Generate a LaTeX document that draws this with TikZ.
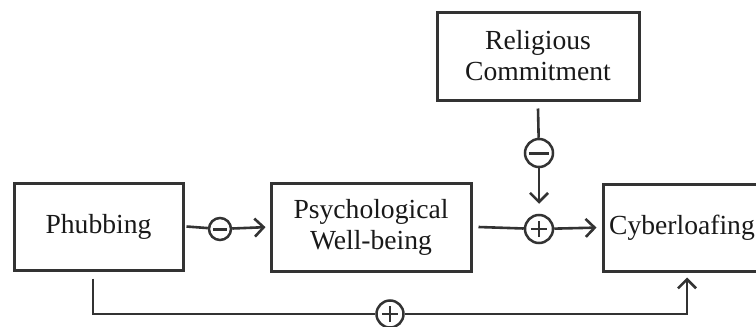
\documentclass[tikz,border=0pt]{standalone}
\usepackage{fontspec}
\setmainfont{Liberation Serif}
\usetikzlibrary{arrows.meta}
\usetikzlibrary{calc}
\usetikzlibrary{positioning}
\definecolor{linegray}{HTML}{333333}

\begin{document}
\begin{tikzpicture}
	[x=0.5pt, y=-0.5pt,
	every node/.style={font=\fontsize{13.8}{15.5}\selectfont, text=black!90},
	varbox/.style={draw=linegray, line width=1.5pt, rectangle, align=center, inner sep=0pt},
	sign/.style={draw=linegray, line width=1.25pt, circle, inner sep=0pt, minimum size=14pt},
	minussign/.style={sign, path picture={\draw[linegray, line width=1.5pt] ([xshift=-#1]path picture bounding box.center) -- ([xshift=#1]path picture bounding box.center);}},
	plussign/.style={sign, path picture={\draw[linegray, line width=1.4pt] ([xshift=-4.1pt]path picture bounding box.center) -- ([xshift=4.1pt]path picture bounding box.center) ([yshift=-4.1pt]path picture bounding box.center) -- ([yshift=4.1pt]path picture bounding box.center);}},
	link/.style={draw=linegray, line width=1.3pt},
	tip/.style={-{Straight Barb[length=4.5pt,width=9pt]}}]
	\useasboundingbox (0,0) rectangle (756,327);
	% variables
	\node[varbox, minimum width=84.5pt, minimum height=43.5pt] (phubbing) at (98.5,226.5) {Phubbing};
	\node[varbox, minimum width=100pt, minimum height=44pt] (wellbeing) at (371,227) {Psychological\\Well-being};
	\node[varbox, minimum width=79pt, minimum height=43.5pt] (cyberloaf) at (682,227.5) {Cyberloafing};
	\node[varbox, minimum width=101pt, minimum height=44pt] (religion) at (538,56) {Religious\\Commitment};
	% signs
	\node[minussign=3.3pt, minimum size=11pt] (minusA) at (220,229) {};
	\node[plussign] (plusA) at (539,229) {};
	\node[minussign=5.1pt] (minusB) at (539,153) {};
	\node[plussign, minimum size=13.5pt] (plusB) at (390,314) {};
	% paths
	\draw[link] ([xshift=1pt]phubbing.east) -- (minusA);
	\draw[link, tip, shorten >=2pt] (minusA) -- (wellbeing.west);
	\draw[link] ([xshift=3pt]wellbeing.east) -- (plusA);
	\draw[link, tip, shorten >=2.5pt] (plusA) -- (cyberloaf.west);
	\draw[link] ([yshift=-3.5pt]religion.south) -- (minusB);
	\draw[link, tip, shorten >=5pt] (minusB) -- (plusA);
	\draw[link] ([xshift=-2.75pt,yshift=-3.5pt]phubbing.south) |- (plusB);
	\draw[link, tip] (plusB) -| ([xshift=2.5pt,yshift=-2.5pt]cyberloaf.south);
\end{tikzpicture}
\end{document}
